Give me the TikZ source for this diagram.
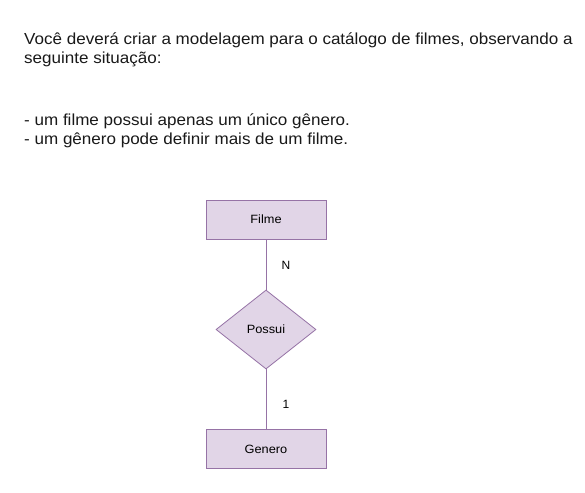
\documentclass[tikz,border=0pt]{standalone}
\usepackage{fontspec}
\setmainfont{Liberation Sans}
\usetikzlibrary{shapes.geometric}
\definecolor{efill}{HTML}{E1D5E7}
\definecolor{estroke}{HTML}{9673A6}
\newcommand{\wide}[1]{\scalebox{1.065}[1]{#1}}
\tikzset{
  entity/.style={draw=estroke, fill=efill, line width=0.8pt, minimum width=120pt, minimum height=39pt, inner sep=0pt, font=\fontsize{12}{14}\selectfont},
  relation/.style={diamond, draw=estroke, fill=efill, line width=0.8pt, minimum width=100pt, minimum height=79pt, inner sep=0pt, aspect=1.27, font=\fontsize{12}{14}\selectfont},
  conn/.style={draw=estroke, line width=0.8pt},
  card/.style={font=\fontsize{12}{14}\selectfont},
  para/.style={anchor=base west, inner sep=0pt, font=\fontsize{16}{19}\selectfont, text=black!90}
}
\begin{document}
\begin{tikzpicture}[x=1pt,y=-1pt]
\useasboundingbox[fill=white] (0,0) rectangle (585,492);
\node[para] (t1) at (24,45) {\wide{Você deverá criar a modelagem para o catálogo de filmes, observando a}};
\node[para] (t2) at (24,64) {\wide{seguinte situação:}};
\node[para] (t3) at (24,125) {\wide{- um filme possui apenas um único gênero.}};
\node[para] (t4) at (24,144) {\wide{- um gênero pode definir mais de um filme.}};
\node[entity] (filme) at (266,219.5) {\wide{Filme}};
\node[relation] (possui) at (266,329.5) {\wide{Possui}};
\node[entity] (genero) at (266,449) {\wide{Genero}};
\draw[conn] (filme.south) -- (possui.north);
\draw[conn] (possui.south) -- (genero.north);
\node[card] (n) at (286,265) {N};
\node[card] (one) at (286,404) {1};
\end{tikzpicture}
\end{document}
